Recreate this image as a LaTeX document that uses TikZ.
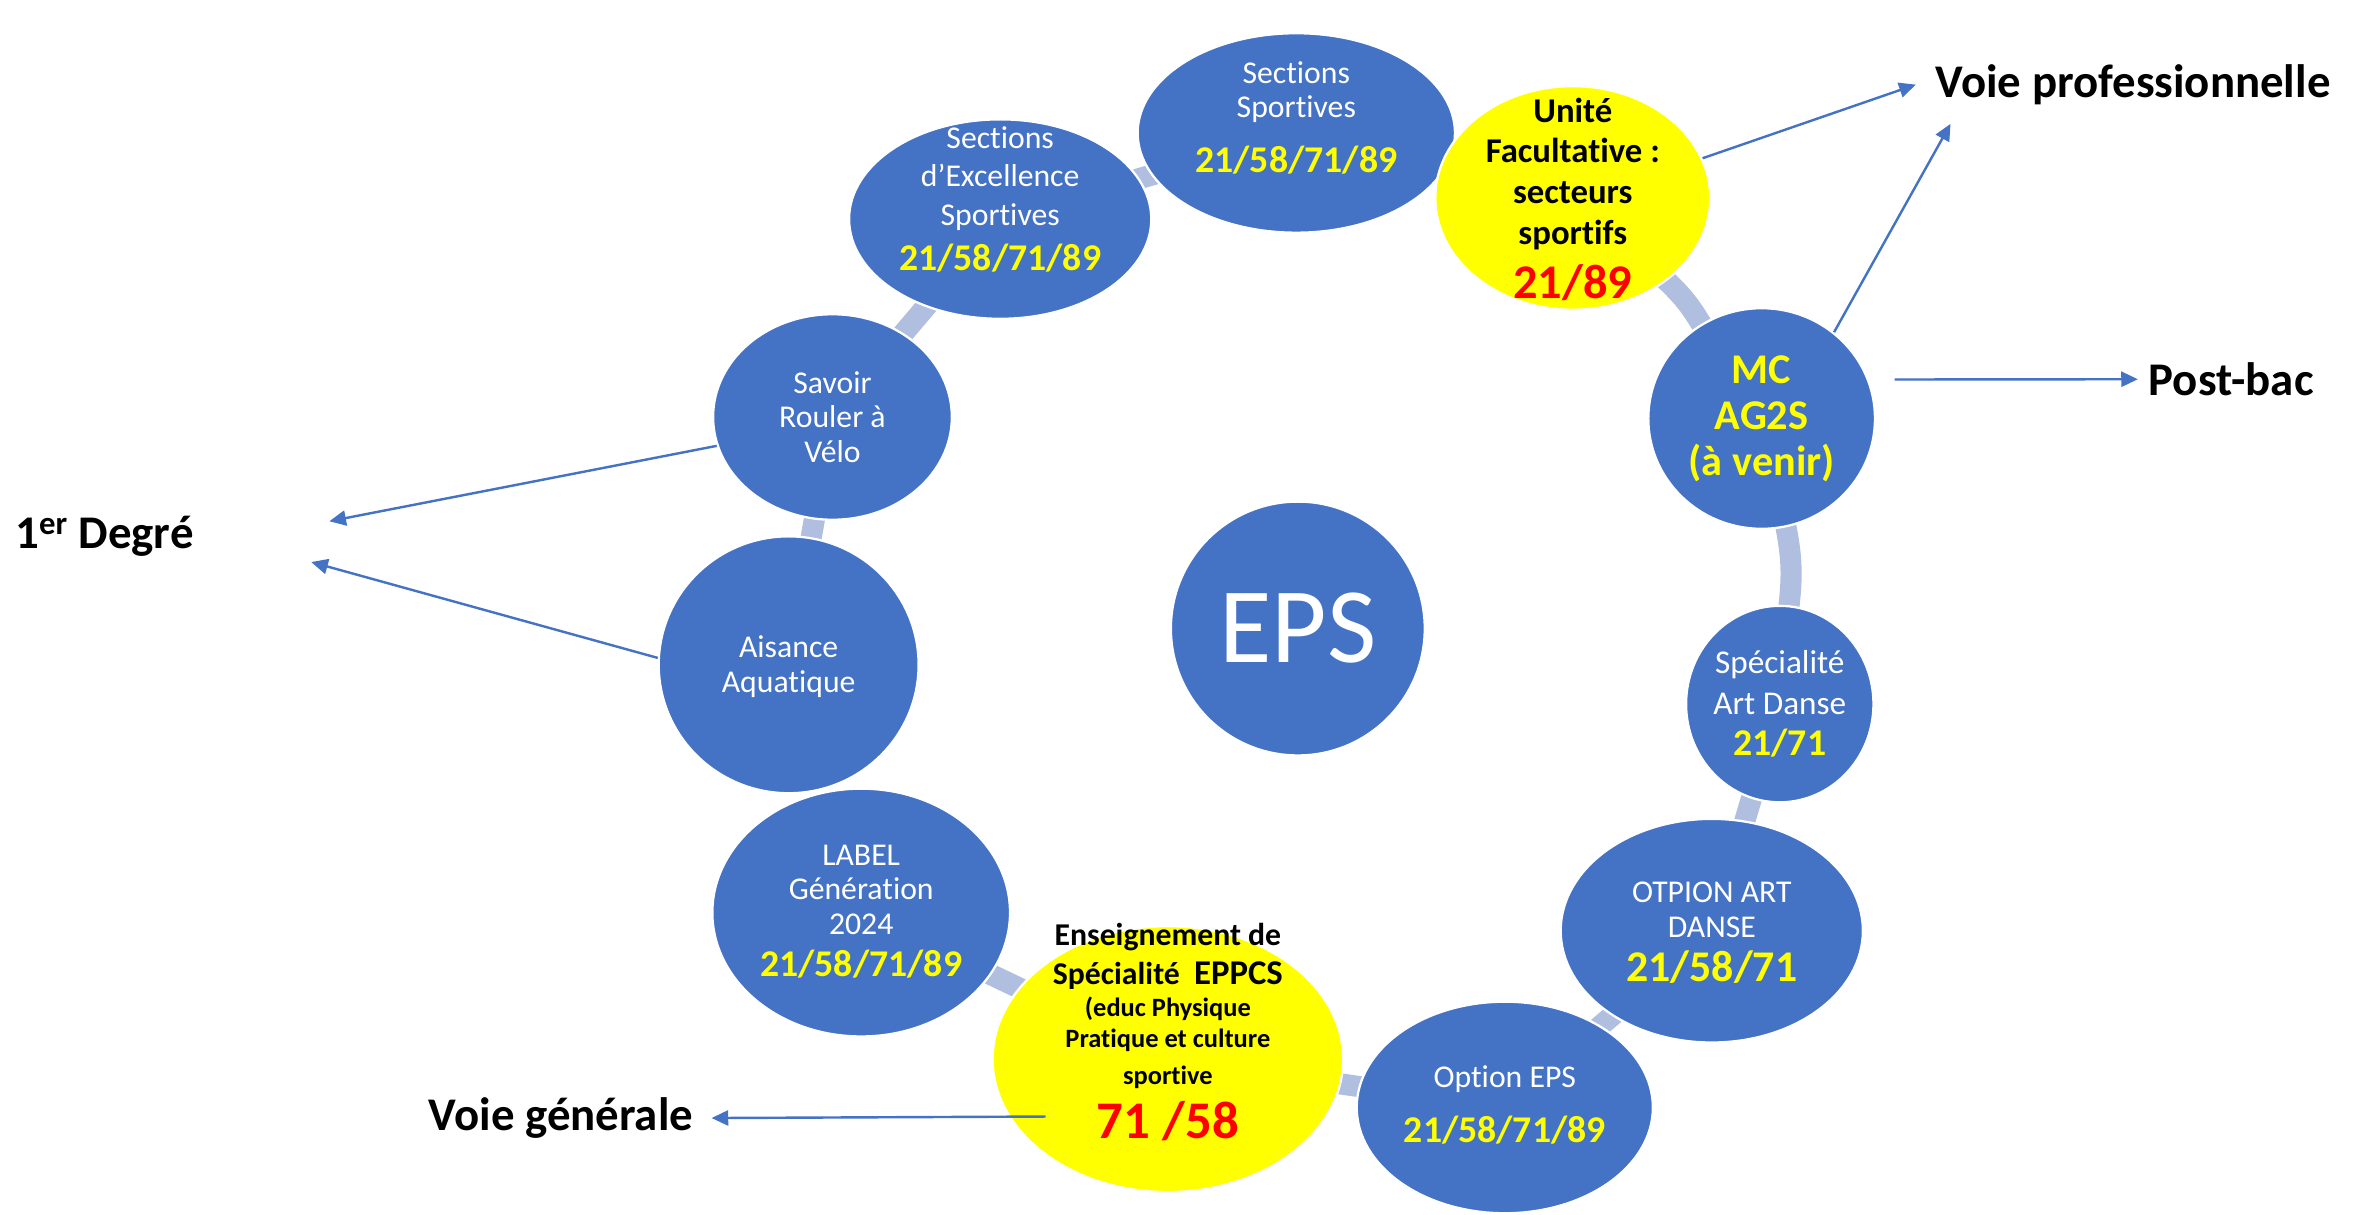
\documentclass[tikz,border=0pt]{standalone}
\usepackage{fontspec}
\setmainfont[Ligatures=NoCommon]{Carlito}
\usetikzlibrary{shapes.geometric,arrows.meta,backgrounds,calc}
\definecolor{nblue}{RGB}{68,114,196}
\definecolor{ringc}{RGB}{176,190,224}
\definecolor{ylw}{RGB}{255,255,0}
\definecolor{rd}{RGB}{255,0,0}
\newcommand{\fs}[2]{\fontsize{#1}{#2}\selectfont}
\begin{document}
\begin{tikzpicture}[x=1pt,y=-1pt,
  blob/.style={ellipse,fill=nblue,draw=white,line width=1.5pt,inner sep=0pt},
  yblob/.style={ellipse,fill=ylw,draw=white,line width=1.5pt,inner sep=0pt},
  wt/.style={text=white,align=center,inner sep=0pt,font=\fs{21}{23}},
  num/.style={text=ylw,align=center,inner sep=0pt,font=\bfseries\fs{25}{28}},
  bt/.style={text=black,align=center,inner sep=0pt,font=\bfseries\fs{23}{27}},
  rnum/.style={text=rd,inner sep=0pt,font=\bfseries\fs{32}{36}},
  ring/.style={draw=ringc,line width=14pt,shorten <=-3pt,shorten >=-3pt},
  arr/.style={draw=nblue,line width=1.6pt,-{Triangle[length=11pt,width=10pt]}},
  lab/.style={text=black,inner sep=0pt,font=\bfseries\fs{31}{36}}]
\useasboundingbox (0,0) rectangle (1568,804);

% ellipses
\node[blob,minimum width=210pt,minimum height=132pt] (ss) at (858,88) {};
\node[blob,minimum width=200pt,minimum height=132pt] (sx) at (662,145) {};
\node[blob,minimum width=158pt,minimum height=136pt] (sr) at (551,276) {};
\node[blob,minimum width=172pt,minimum height=170pt] (aa) at (522,440) {};
\node[blob,minimum width=197pt,minimum height=164pt] (lg) at (570,604) {};
\node[blob,minimum width=168pt,minimum height=168pt] (eps) at (859,416) {};
\node[yblob,minimum width=232pt,minimum height=176pt] (ep) at (773,701) {};
\node[blob,minimum width=196pt,minimum height=140pt] (oe) at (996,733) {};
\node[blob,minimum width=200pt,minimum height=148pt] (oad) at (1133,616) {};
\node[blob,minimum width=124pt,minimum height=130pt] (sad) at (1178,466) {};
\node[blob,minimum width=150pt,minimum height=146pt] (mc) at (1166,277) {};
\node[yblob,minimum width=182pt,minimum height=148pt] (uf) at (1041,131) {};

% ring connectors
\begin{scope}[on background layer]
\draw[ring] (ss) -- (sx);
\draw[ring] (sx) -- (sr);
\draw[ring] (sr) -- (aa);
\draw[ring] (lg) -- (ep);
\draw[ring] (ep) -- (oe);
\draw[ring] (oe) -- (oad);
\draw[ring] (oad) -- (sad);
\draw[ring] (sad) to[bend right=9] (mc);
\draw[ring] (mc) to[bend right=8] (uf);
\end{scope}

% texts
\node[wt] (ssT) at (858,61) {Sections\\Sportives};
\node[num] (ssN) at (858,106) {21/58/71/89};
\node[wt,font=\fs{21}{25.5}] (sxT) at (662,118) {Sections\\d’Excellence\\Sportives};
\node[num] (sxN) at (662,171) {21/58/71/89};
\node[bt] (ufT) at (1041,115) {Unité\\Facultative :\\secteurs\\sportifs};
\node[rnum] (ufN) at (1041,187) {21/89};
\node[wt] (srT) at (551,276) {Savoir\\Rouler à\\Vélo};
\node[num,font=\bfseries\fs{28}{30.5}] (mcT) at (1166,277) {MC\\AG2S\\(à venir)};
\node[text=white,inner sep=0pt,font=\fs{71}{80}] (epsT) at (859,416) {EPS};
\node[wt] (aaT) at (522,441) {Aisance\\Aquatique};
\node[wt,font=\fs{22}{27}] (sadT) at (1178,452) {Spécialité\\Art Danse};
\node[num] (sadN) at (1178,492) {21/71};
\node[wt] (lgT) at (570,589) {LABEL\\Génération\\2024};
\node[num] (lgN) at (570,638) {21/58/71/89};
\node[wt] (oadT) at (1133,602) {OTPION ART\\DANSE};
\node[num,font=\bfseries\fs{29}{32}] (oadN) at (1133,640) {21/58/71};
\node[bt,font=\bfseries\fs{21}{26}] (epT1) at (773,633) {Enseignement de\\Spécialité~~{\fs{23}{26}EPPCS}};
\node[bt,font=\bfseries\fs{17.5}{20}] (epT2) at (773,678) {(educ Physique\\Pratique et culture};
\node[bt,font=\bfseries\fs{17.5}{20}] (epT3) at (773,713) {sportive};
\node[rnum,font=\bfseries\fs{35}{40}] (epN) at (773,742) {71 /58};
\node[wt] (oeT) at (996,714) {Option EPS};
\node[num] (oeN) at (996,748) {21/58/71/89};

% outer labels
\node[lab,anchor=west] (deg) at (10,355) {1\textsuperscript{er} Degré};
\node[lab,anchor=east] (vg) at (459,740) {Voie générale};
\node[lab,anchor=west] (vp) at (1281,56) {Voie professionnelle};
\node[lab,anchor=west] (pb) at (1422,251) {Post-bac};

% arrows
\coordinate (d1) at (218,345);
\coordinate (d2) at (206,372);
\coordinate (v2) at (1291,82);
\draw[arr] (sr.194) -- (d1);
\draw[arr] (aa.177) -- (d2);
\draw[arr] ($(ep.center)+(-81,38)$) -- ([xshift=12pt]vg.east);
\draw[arr] (uf.17) -- ([xshift=-13pt]vp.west);
\draw[arr] (mc.50) -- (v2);
\draw[arr] ([xshift=17pt]mc.20) -- ([xshift=-7pt]pb.west);
\end{tikzpicture}
\end{document}
